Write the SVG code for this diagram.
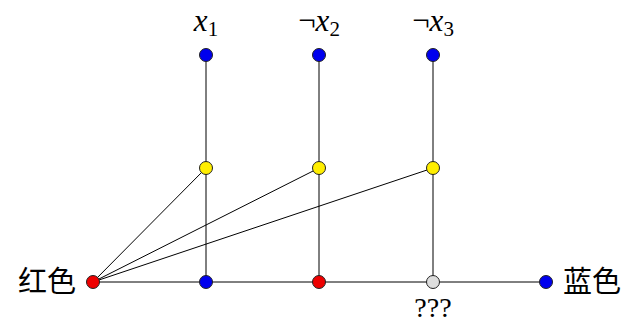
<svg xmlns="http://www.w3.org/2000/svg" width="627" height="323" viewBox="0 0 627 323">
<style>
.e{stroke:#000;stroke-width:1;fill:none}
.n{stroke:#222;stroke-width:1}
.b{fill:#0000ee}.r{fill:#ee0000}.y{fill:#ffee00}.g{fill:#dddddd}
text{font-family:"Liberation Serif","DejaVu Serif",serif;fill:#000}
</style>
<rect width="627" height="323" fill="#fff"/>
<g id="connectors">
<line class="e" x1="206" y1="55" x2="206" y2="282"/>
<line class="e" x1="319" y1="55" x2="319" y2="282"/>
<line class="e" x1="433" y1="55" x2="433" y2="282"/>
<line class="e" x1="93" y1="282" x2="546" y2="282"/>
<line class="e" x1="93" y1="282" x2="206" y2="168"/>
<line class="e" x1="93" y1="282" x2="319" y2="168"/>
<line class="e" x1="93" y1="282" x2="433" y2="168"/>
</g>
<g id="x1"><circle class="n b" cx="206" cy="55" r="6.5"/><text x="206" y="31" text-anchor="middle" font-size="31"><tspan font-style="italic">x</tspan><tspan font-size="21" dy="5">1</tspan></text></g>
<g id="nx2"><circle class="n b" cx="319" cy="55" r="6.5"/><text x="319" y="31" text-anchor="middle" font-size="31">¬<tspan font-style="italic">x</tspan><tspan font-size="21" dy="5">2</tspan></text></g>
<g id="nx3"><circle class="n b" cx="433" cy="55" r="6.5"/><text x="433" y="31" text-anchor="middle" font-size="31">¬<tspan font-style="italic">x</tspan><tspan font-size="21" dy="5">3</tspan></text></g>
<g id="y1"><circle class="n y" cx="206" cy="168" r="6.5"/></g>
<g id="y2"><circle class="n y" cx="319" cy="168" r="6.5"/></g>
<g id="y3"><circle class="n y" cx="433" cy="168" r="6.5"/></g>
<g id="red"><circle class="n r" cx="93" cy="282" r="6.5"/><text x="76" y="292" text-anchor="end" font-size="29" style="font-family:'Noto Sans CJK SC',sans-serif">红色</text></g>
<g id="b1"><circle class="n b" cx="206" cy="282" r="6.5"/></g>
<g id="r2"><circle class="n r" cx="319" cy="282" r="6.5"/></g>
<g id="q3"><circle class="n g" cx="433" cy="282" r="6.5"/><text x="433" y="317" text-anchor="middle" font-size="28">???</text></g>
<g id="blue"><circle class="n b" cx="546" cy="282" r="6.5"/><text x="563" y="292" font-size="29" style="font-family:'Noto Sans CJK SC',sans-serif">蓝色</text></g>
</svg>
